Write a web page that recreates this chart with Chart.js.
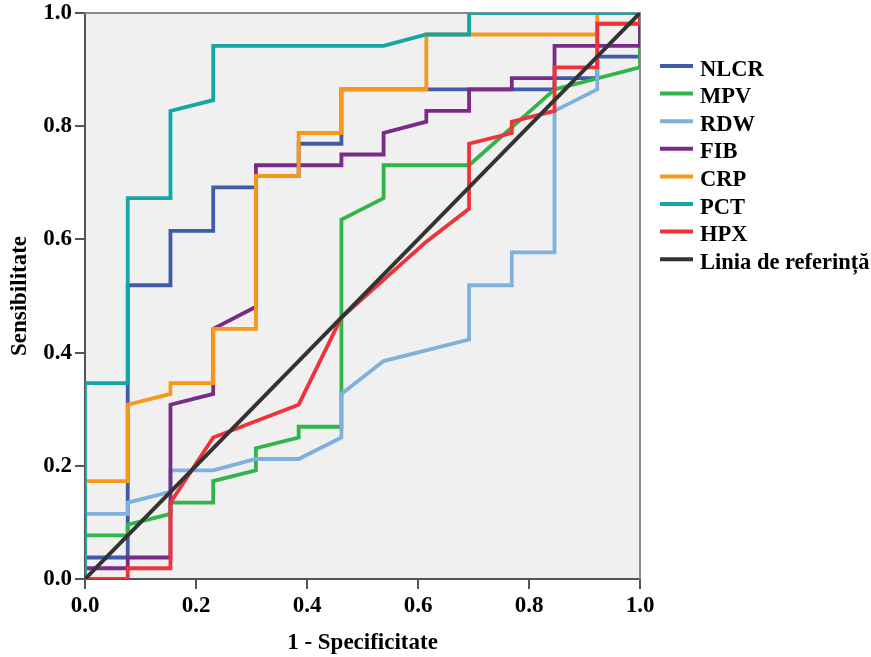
<!DOCTYPE html>
<html>
<head>
<meta charset="utf-8">
<script src="https://cdn.jsdelivr.net/npm/chart.js@4.4.1/dist/chart.umd.min.js"></script>
<style>
html,body{margin:0;padding:0;background:#fff;}
#wrap{width:871px;height:657px;}
</style>
</head>
<body>
<div id="wrap"><canvas id="c" width="871" height="657"></canvas></div>
<script>
// Series labels (legend order)
const seriesNames = ['NLCR', 'MPV', 'RDW', 'FIB', 'CRP', 'PCT', 'HPX', 'Linia de referință'];
const seriesColors = ['#3F5BA9', '#33B44A', '#80B0DC', '#7A2B88', '#F7981D', '#14A5A5', '#EE333A', '#333333'];

// ROC coordinates: x = 1 - Specificitate, y = Sensibilitate
const nlcrX = [0, 0, 0.077, 0.077, 0.154, 0.154, 0.231, 0.231, 0.308, 0.308, 0.385, 0.385, 0.462, 0.462, 0.846, 0.846, 0.923, 0.923, 1, 1];
const nlcrY = [0, 0.038, 0.038, 0.519, 0.519, 0.615, 0.615, 0.692, 0.692, 0.712, 0.712, 0.769, 0.769, 0.865, 0.865, 0.885, 0.885, 0.923, 0.923, 1];

const mpvX = [0, 0, 0.077, 0.077, 0.154, 0.154, 0.231, 0.231, 0.308, 0.308, 0.385, 0.385, 0.462, 0.462, 0.538, 0.538, 0.692, 0.846, 1, 1];
const mpvY = [0, 0.077, 0.077, 0.096, 0.115, 0.135, 0.135, 0.173, 0.192, 0.231, 0.25, 0.269, 0.269, 0.635, 0.673, 0.731, 0.731, 0.865, 0.904, 1];

const rdwX = [0, 0, 0.077, 0.077, 0.154, 0.154, 0.231, 0.308, 0.385, 0.462, 0.462, 0.538, 0.692, 0.692, 0.769, 0.769, 0.846, 0.846, 0.923, 0.923, 1, 1];
const rdwY = [0, 0.115, 0.115, 0.135, 0.154, 0.192, 0.192, 0.212, 0.212, 0.25, 0.327, 0.385, 0.423, 0.519, 0.519, 0.577, 0.577, 0.827, 0.865, 0.981, 0.981, 1];

const fibX = [0, 0, 0.077, 0.077, 0.154, 0.154, 0.231, 0.231, 0.308, 0.308, 0.462, 0.462, 0.538, 0.538, 0.615, 0.615, 0.692, 0.692, 0.769, 0.769, 0.846, 0.846, 1, 1];
const fibY = [0, 0.019, 0.019, 0.038, 0.038, 0.308, 0.327, 0.442, 0.481, 0.731, 0.731, 0.75, 0.75, 0.788, 0.808, 0.827, 0.827, 0.865, 0.865, 0.885, 0.885, 0.942, 0.942, 1];

const crpX = [0, 0, 0.077, 0.077, 0.154, 0.154, 0.231, 0.231, 0.308, 0.308, 0.385, 0.385, 0.462, 0.462, 0.615, 0.615, 0.923, 0.923, 1];
const crpY = [0, 0.173, 0.173, 0.308, 0.327, 0.346, 0.346, 0.442, 0.442, 0.712, 0.712, 0.788, 0.788, 0.865, 0.865, 0.962, 0.962, 1, 1];

const pctX = [0, 0, 0.077, 0.077, 0.154, 0.154, 0.231, 0.231, 0.538, 0.615, 0.692, 0.692, 1];
const pctY = [0, 0.346, 0.346, 0.673, 0.673, 0.827, 0.846, 0.942, 0.942, 0.962, 0.962, 1, 1];

const hpxX = [0, 0.077, 0.077, 0.154, 0.154, 0.231, 0.385, 0.462, 0.615, 0.692, 0.692, 0.769, 0.769, 0.846, 0.846, 0.923, 0.923, 1, 1];
const hpxY = [0, 0, 0.019, 0.019, 0.135, 0.25, 0.308, 0.462, 0.596, 0.654, 0.769, 0.788, 0.808, 0.827, 0.904, 0.904, 0.981, 0.981, 1];

const refX = [0, 1];
const refY = [0, 1];

// Axis ticks
const tickValues = [0, 0.2, 0.4, 0.6, 0.8, 1.0];
const xTitle = '1 - Specificitate';
const yTitle = 'Sensibilitate';

const xsList = [nlcrX, mpvX, rdwX, fibX, crpX, pctX, hpxX, refX];
const ysList = [nlcrY, mpvY, rdwY, fibY, crpY, pctY, hpxY, refY];

const toPts = (xs, ys) => xs.map((x, i) => ({x: x, y: ys[i]}));

const datasets = seriesNames.map((name, i) => ({
  label: name,
  data: toPts(xsList[i], ysList[i]),
  borderColor: seriesColors[i],
  backgroundColor: seriesColors[i],
  borderWidth: i === 7 ? 4 : 3.8,
  pointRadius: 0,
  pointHoverRadius: 0,
  tension: 0,
  fill: false,
  order: seriesNames.length - 1 - i,
  borderCapStyle: 'butt',
  borderJoinStyle: 'miter'
}));

const FONT = '"Liberation Serif", "Times New Roman", serif';

const plotBg = {
  id: 'plotBg',
  beforeDraw(chart) {
    const {ctx, chartArea: a} = chart;
    ctx.save();
    ctx.fillStyle = '#F0F0F0';
    ctx.fillRect(a.left, a.top, a.right - a.left, a.bottom - a.top);
    ctx.restore();
  },
  beforeDatasetsDraw(chart) {
    const {ctx, chartArea: a} = chart;
    ctx.save();
    ctx.strokeStyle = '#8A8A8A';
    ctx.lineWidth = 2;
    ctx.beginPath();
    ctx.moveTo(a.left, a.top);
    ctx.lineTo(a.right, a.top);
    ctx.lineTo(a.right, a.bottom);
    ctx.stroke();
    ctx.restore();
  }
};

const sideLegend = {
  id: 'sideLegend',
  afterDraw(chart) {
    const ctx = chart.ctx;
    const a = chart.chartArea;
    const sx = a.right + 20, sw = 33, tx = a.right + 60;
    ctx.save();
    ctx.font = 'bold 22.5px ' + FONT;
    ctx.textBaseline = 'alphabetic';
    ctx.textAlign = 'left';
    chart.data.datasets.forEach((ds, i) => {
      const y = 66 + i * 27.6;
      ctx.strokeStyle = ds.borderColor;
      ctx.lineWidth = 4;
      ctx.beginPath();
      ctx.moveTo(sx, y);
      ctx.lineTo(sx + sw, y);
      ctx.stroke();
      ctx.fillStyle = '#000';
      ctx.fillText(ds.label, tx, y + 9.5);
    });
    ctx.restore();
  }
};

new Chart(document.getElementById('c'), {
  type: 'line',
  data: {datasets: datasets},
  options: {
    responsive: false,
    devicePixelRatio: 1,
    animation: false,
    layout: {padding: {left: 0, right: 231, top: 13, bottom: 0}},
    plugins: {legend: {display: false}, tooltip: {enabled: false}},
    scales: {
      x: {
        type: 'linear',
        min: 0, max: 1,
        afterBuildTicks: (s) => { s.ticks = tickValues.map(v => ({value: v})); },
        afterFit: (s) => { s.height = 78; },
        ticks: {
          callback: (v) => Number(v).toFixed(1),
          font: {family: FONT, size: 23, weight: 'bold'},
          color: '#000',
          padding: 3,
          maxRotation: 0
        },
        grid: {drawOnChartArea: false, drawTicks: true, tickLength: 10, color: '#555', lineWidth: 2},
        border: {display: true, color: '#555', width: 2},
        title: {display: true, text: xTitle, font: {family: FONT, size: 23, weight: 'bold'}, color: '#000', padding: {top: 0, bottom: 0}}
      },
      y: {
        type: 'linear',
        min: 0, max: 1,
        afterBuildTicks: (s) => { s.ticks = tickValues.map(v => ({value: v})); },
        afterFit: (s) => { s.width = 85; s.paddingTop = 0; s.paddingBottom = 0; },
        ticks: {
          callback: (v) => Number(v).toFixed(1),
          font: {family: FONT, size: 23, weight: 'bold'},
          color: '#000',
          padding: 3
        },
        grid: {drawOnChartArea: false, drawTicks: true, tickLength: 10, color: '#555', lineWidth: 2},
        border: {display: true, color: '#555', width: 2},
        title: {display: true, text: yTitle, font: {family: FONT, size: 23, weight: 'bold'}, color: '#000', padding: {top: 6, bottom: 0}}
      }
    }
  },
  plugins: [plotBg, sideLegend]
});
</script>
</body>
</html>
